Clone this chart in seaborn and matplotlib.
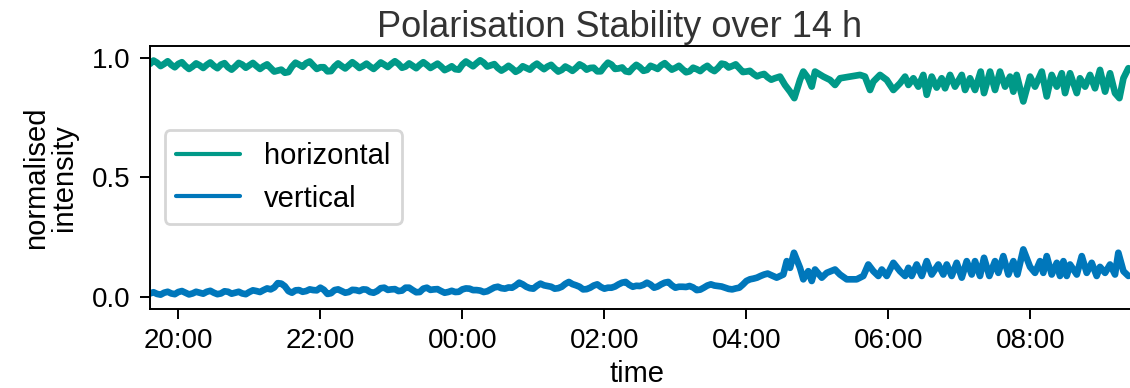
import numpy as np
import pandas as pd
import matplotlib
matplotlib.use("Agg")
import matplotlib.pyplot as plt
import matplotlib.dates as mdates
import seaborn as sns

# ---------------- data ----------------
start = pd.Timestamp("2024-03-01 19:36")
grid_step_min = 3  # sampling step of the slowly varying, noisy first part

# horizontal polarisation, 19:36 .. 04:24 on a 3-min grid
h_left = [0.974, 0.988, 0.979, 0.965, 0.974, 0.985, 0.970, 0.960, 0.974, 0.981,
          0.965, 0.953, 0.963, 0.976, 0.968, 0.957, 0.970, 0.980, 0.966, 0.956,
          0.971, 0.977, 0.960, 0.950, 0.963, 0.978, 0.971, 0.958, 0.968, 0.978,
          0.965, 0.953, 0.964, 0.972, 0.957, 0.942, 0.946, 0.950, 0.937, 0.940,
          0.963, 0.979, 0.971, 0.962, 0.977, 0.984, 0.968, 0.953, 0.960, 0.960,
          0.943, 0.944, 0.963, 0.976, 0.965, 0.955, 0.968, 0.981, 0.970, 0.957,
          0.965, 0.975, 0.963, 0.953, 0.966, 0.980, 0.971, 0.961, 0.974, 0.985,
          0.974, 0.958, 0.963, 0.976, 0.966, 0.956, 0.970, 0.981, 0.970, 0.957,
          0.966, 0.975, 0.963, 0.948, 0.955, 0.964, 0.952, 0.950, 0.971, 0.984,
          0.974, 0.964, 0.977, 0.989, 0.979, 0.963, 0.968, 0.973, 0.957, 0.946,
          0.955, 0.966, 0.955, 0.941, 0.949, 0.964, 0.957, 0.950, 0.965, 0.975,
          0.963, 0.952, 0.963, 0.970, 0.955, 0.942, 0.949, 0.963, 0.955, 0.945,
          0.957, 0.972, 0.964, 0.950, 0.957, 0.958, 0.943, 0.943, 0.963, 0.979,
          0.971, 0.953, 0.955, 0.959, 0.943, 0.940, 0.957, 0.970, 0.960, 0.945,
          0.949, 0.966, 0.960, 0.953, 0.968, 0.977, 0.963, 0.950, 0.957, 0.966,
          0.952, 0.939, 0.943, 0.958, 0.952, 0.944, 0.957, 0.966, 0.952, 0.944,
          0.957, 0.975, 0.972, 0.959, 0.965, 0.972, 0.956, 0.940, 0.942, 0.945,
          0.932, 0.922, 0.928, 0.932, 0.918, 0.908, 0.914]

# vertical polarisation, 19:36 .. 04:18 on a 3-min grid
v_left = [0.015, 0.020, 0.013, 0.010, 0.018, 0.022, 0.015, 0.012, 0.021, 0.025,
          0.018, 0.011, 0.015, 0.022, 0.018, 0.014, 0.022, 0.026, 0.018, 0.012,
          0.015, 0.024, 0.022, 0.014, 0.018, 0.022, 0.015, 0.012, 0.021, 0.028,
          0.025, 0.021, 0.029, 0.036, 0.032, 0.040, 0.058, 0.056, 0.045, 0.025,
          0.018, 0.028, 0.029, 0.022, 0.025, 0.032, 0.029, 0.028, 0.039, 0.030,
          0.013, 0.016, 0.029, 0.032, 0.025, 0.018, 0.021, 0.030, 0.029, 0.025,
          0.032, 0.031, 0.021, 0.018, 0.025, 0.037, 0.039, 0.030, 0.032, 0.033,
          0.025, 0.027, 0.039, 0.039, 0.029, 0.020, 0.021, 0.035, 0.039, 0.030,
          0.032, 0.033, 0.025, 0.018, 0.021, 0.026, 0.021, 0.022, 0.032, 0.036,
          0.035, 0.029, 0.029, 0.027, 0.021, 0.024, 0.032, 0.040, 0.043, 0.037,
          0.035, 0.040, 0.039, 0.048, 0.060, 0.053, 0.043, 0.037, 0.035, 0.047,
          0.056, 0.049, 0.046, 0.043, 0.035, 0.037, 0.043, 0.055, 0.063, 0.054,
          0.049, 0.043, 0.032, 0.033, 0.039, 0.048, 0.053, 0.042, 0.035, 0.039,
          0.039, 0.044, 0.053, 0.060, 0.063, 0.051, 0.043, 0.047, 0.046, 0.051,
          0.060, 0.052, 0.039, 0.044, 0.053, 0.060, 0.063, 0.049, 0.039, 0.043,
          0.043, 0.042, 0.046, 0.040, 0.029, 0.031, 0.039, 0.048, 0.053, 0.048,
          0.046, 0.044, 0.039, 0.034, 0.032, 0.036, 0.039, 0.052, 0.067, 0.074,
          0.077, 0.081, 0.088, 0.094, 0.098]

# oscillating second part: minutes after 19:36 and values at turning points
h_right_min = [532.4, 536.6, 540.9, 544.5, 549.3, 552.1, 556.3, 559.2, 562.0, 569.0,
               574.7, 578.9, 583.1, 591.6, 600.0, 604.2, 608.5, 611.3, 616.9, 622.6,
               628.2, 633.8, 638.1, 640.9, 645.1, 649.3, 653.5, 656.4, 660.6, 664.8,
               669.0, 671.9, 676.1, 680.3, 686.0, 688.8, 693.0, 697.2, 702.0, 704.8,
               709.9, 714.1, 718.3, 722.6, 726.8, 729.6, 732.4, 738.0, 743.7, 747.9,
               753.6, 757.8, 762.0, 766.3, 770.5, 773.3, 777.5, 783.2, 785.9, 790.2,
               794.4, 798.6, 802.8, 807.1, 811.3, 815.5, 819.2, 822.6, 826.8]
h_right = [0.921, 0.886, 0.858, 0.831, 0.907, 0.942, 0.914, 0.879, 0.942, 0.921,
           0.907, 0.886, 0.914, 0.921, 0.928, 0.921, 0.865, 0.900, 0.928, 0.907,
           0.865, 0.893, 0.921, 0.886, 0.914, 0.879, 0.928, 0.845, 0.921, 0.875,
           0.914, 0.872, 0.928, 0.879, 0.928, 0.865, 0.914, 0.865, 0.942, 0.852,
           0.942, 0.865, 0.942, 0.879, 0.921, 0.858, 0.928, 0.817, 0.921, 0.879,
           0.942, 0.838, 0.928, 0.879, 0.935, 0.852, 0.935, 0.852, 0.914, 0.879,
           0.928, 0.872, 0.949, 0.858, 0.935, 0.852, 0.831, 0.914, 0.956]

v_right_min = [529.6, 535.2, 538.1, 540.9, 544.2, 549.3, 552.1, 556.3, 559.2, 562.0,
               567.7, 571.9, 578.9, 583.1, 588.8, 597.2, 602.8, 607.0, 611.3, 615.5,
               618.4, 622.6, 628.2, 633.8, 638.1, 640.9, 643.7, 647.9, 652.2, 656.4,
               660.6, 666.2, 670.4, 673.3, 677.5, 681.7, 686.0, 690.2, 694.4, 697.2,
               701.4, 704.8, 709.3, 714.1, 716.9, 721.1, 725.4, 729.6, 733.0, 738.0,
               743.7, 747.9, 752.1, 754.9, 757.8, 762.0, 766.3, 769.0, 771.9, 774.7,
               777.5, 783.2, 787.4, 791.6, 795.8, 800.0, 802.8, 807.1, 811.3, 815.5,
               818.3, 822.6, 826.8]
v_right = [0.081, 0.094, 0.150, 0.122, 0.185, 0.122, 0.074, 0.108, 0.067, 0.115,
           0.081, 0.101, 0.115, 0.094, 0.074, 0.074, 0.088, 0.136, 0.108, 0.088,
           0.115, 0.088, 0.143, 0.108, 0.088, 0.122, 0.088, 0.136, 0.088, 0.150,
           0.094, 0.136, 0.094, 0.136, 0.088, 0.143, 0.081, 0.150, 0.094, 0.150,
           0.088, 0.164, 0.088, 0.150, 0.101, 0.171, 0.094, 0.150, 0.094, 0.199,
           0.126, 0.101, 0.150, 0.101, 0.171, 0.094, 0.143, 0.088, 0.150, 0.088,
           0.136, 0.094, 0.171, 0.101, 0.143, 0.088, 0.126, 0.101, 0.136, 0.094,
           0.185, 0.108, 0.088]

series_names = ["horizontal", "vertical"]
colors = {"horizontal": "#009988", "vertical": "#0077BB"}
ytick_vals = [0.0, 0.5, 1.0]

# ---------------- assemble ----------------
h_min = [i * grid_step_min for i in range(len(h_left))] + h_right_min
v_min = [i * grid_step_min for i in range(len(v_left))] + v_right_min

df = pd.concat([
    pd.DataFrame({"time": start + pd.to_timedelta(h_min, unit="min"),
                  "intensity": h_left + h_right, "polarisation": "horizontal"}),
    pd.DataFrame({"time": start + pd.to_timedelta(v_min, unit="min"),
                  "intensity": v_left + v_right, "polarisation": "vertical"}),
], ignore_index=True)

# ---------------- plot ----------------
sns.set_theme(style="ticks")
plt.rcParams["font.family"] = ["Liberation Sans", "DejaVu Sans"]
plt.rcParams["axes.linewidth"] = 0.7
plt.rcParams["xtick.major.width"] = 0.7
plt.rcParams["ytick.major.width"] = 0.7
plt.rcParams["xtick.major.size"] = 3.5
plt.rcParams["ytick.major.size"] = 3.5

fig = plt.figure(figsize=(5.65, 1.94), dpi=200)
ax = fig.add_axes([0.1327, 0.2036, 0.8797, 0.6786])

sns.lineplot(data=df, x="time", y="intensity", hue="polarisation",
             hue_order=series_names, palette=colors, estimator=None,
             linewidth=2.4, ax=ax)
for ln in ax.get_lines():
    ln.set_solid_joinstyle("round")

ax.set_xlim(start, start + pd.Timedelta(hours=14))
ax.set_ylim(-0.05, 1.05)
ax.set_yticks(ytick_vals)
ax.set_yticklabels([f"{v:.1f}" for v in ytick_vals])
ax.xaxis.set_major_locator(mdates.HourLocator(byhour=range(0, 24, 2)))
ax.xaxis.set_major_formatter(mdates.DateFormatter("%H:%M"))
ax.tick_params(labelsize=10, colors="black")

ax.set_xlabel("time", fontsize=10.5, color="black", labelpad=2, x=0.49)
ax.set_ylabel("normalised\nintensity", fontsize=10.5, color="black",
              linespacing=1.0, labelpad=5)
ax.set_title("Polarisation Stability over 14 h", fontsize=13, color="#333333",
             pad=3, x=0.472)

for s in ax.spines.values():
    s.set_visible(True)
    s.set_color("black")

leg = ax.legend(loc="center left", fontsize=10.5, frameon=True, handlelength=2.2)
leg.get_frame().set_edgecolor("#cccccc")
for t in leg.get_texts():
    t.set_color("black")
for h in leg.get_lines():
    h.set_linewidth(1.5)

fig.savefig("out.png", dpi=200)
